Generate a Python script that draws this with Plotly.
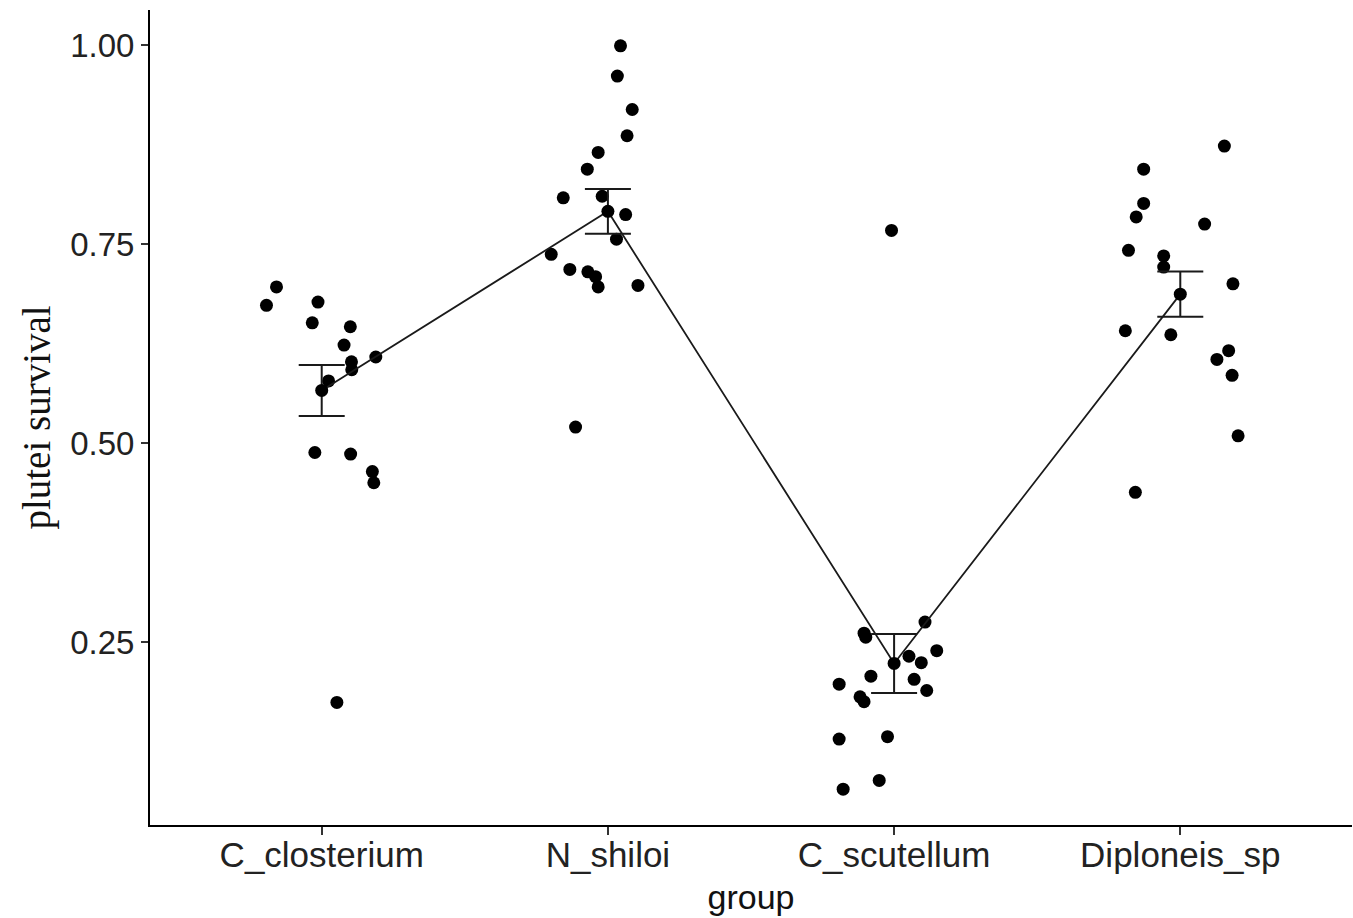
import plotly.graph_objects as go

groups = ["C_closterium", "N_shiloi", "C_scutellum", "Diploneis_sp"]

# survival values per group
c_closterium = [0.696, 0.673, 0.677, 0.651, 0.646, 0.623, 0.602, 0.592, 0.608,
                0.578, 0.488, 0.486, 0.464, 0.450, 0.174]
n_shiloi = [0.999, 0.961, 0.919, 0.886, 0.865, 0.844, 0.808, 0.810, 0.787,
            0.756, 0.737, 0.718, 0.715, 0.709, 0.696, 0.698, 0.520]
c_scutellum = [0.275, 0.261, 0.256, 0.232, 0.224, 0.239, 0.207, 0.203, 0.189,
               0.197, 0.181, 0.175, 0.128, 0.131, 0.076, 0.065, 0.767]
diploneis_sp = [0.873, 0.844, 0.801, 0.784, 0.775, 0.742, 0.735, 0.721, 0.700,
                0.641, 0.636, 0.616, 0.605, 0.585, 0.509, 0.438]

# horizontal jitter of each point (category units)
jit_c_closterium = [-0.158, -0.193, -0.013, -0.033, 0.100, 0.078, 0.104, 0.105, 0.189,
                    0.024, -0.024, 0.101, 0.177, 0.182, 0.053]
jit_n_shiloi = [0.044, 0.033, 0.085, 0.067, -0.034, -0.072, -0.156, -0.020, 0.062,
                0.030, -0.198, -0.133, -0.070, -0.043, -0.034, 0.105, -0.113]
jit_c_scutellum = [0.108, -0.105, -0.099, 0.052, 0.095, 0.149, -0.081, 0.070, 0.114,
                   -0.192, -0.119, -0.105, -0.192, -0.023, -0.052, -0.178, -0.009]
jit_diploneis_sp = [0.154, -0.128, -0.128, -0.154, 0.085, -0.181, -0.058, -0.058, 0.184,
                    -0.192, -0.033, 0.169, 0.128, 0.181, 0.202, -0.157]

# group means and standard errors
means = [0.566, 0.791, 0.223, 0.687]
ses = [0.032, 0.028, 0.037, 0.0285]

values = [c_closterium, n_shiloi, c_scutellum, diploneis_sp]
jitters = [jit_c_closterium, jit_n_shiloi, jit_c_scutellum, jit_diploneis_sp]

fig = go.Figure()

for i, (vals, jit) in enumerate(zip(values, jitters)):
    fig.add_trace(go.Scatter(
        x=[i + j for j in jit], y=vals, mode="markers",
        marker=dict(size=13, color="black", line=dict(width=0)),
        showlegend=False, hoverinfo="y"))

xpos = list(range(len(groups)))
fig.add_trace(go.Scatter(
    x=xpos, y=means, mode="lines",
    line=dict(color="#1a1a1a", width=1.8), showlegend=False))
fig.add_trace(go.Scatter(
    x=xpos, y=means, mode="markers",
    marker=dict(size=13, color="black", line=dict(width=0)),
    error_y=dict(type="data", array=ses, visible=True, width=23,
                 thickness=2, color="#1a1a1a"),
    showlegend=False))

sans = "Liberation Sans, Arial, sans-serif"

fig.update_layout(
    width=1353, height=918,
    margin=dict(l=150, r=1, t=10, b=93),
    plot_bgcolor="white", paper_bgcolor="white",
    showlegend=False,
    xaxis=dict(
        range=[-0.6, 3.6], tickmode="array", tickvals=xpos, ticktext=groups,
        showline=True, linecolor="black", linewidth=2,
        ticks="outside", ticklen=8, tickwidth=1.5, tickcolor="#333333",
        showgrid=False, zeroline=False,
        tickfont=dict(family=sans, size=35, color="#222222"),
        ticklabelstandoff=-10,
        title=dict(text="group", font=dict(family=sans, size=34, color="#111111"), standoff=12),
    ),
    yaxis=dict(
        range=[0.020, 1.044], tickmode="array",
        tickvals=[0.25, 0.50, 0.75, 1.00], ticktext=["0.25", "0.50", "0.75", "1.00"],
        showline=True, linecolor="black", linewidth=2,
        ticks="outside", ticklen=7, tickwidth=1.5, tickcolor="#333333",
        showgrid=False, zeroline=False,
        tickfont=dict(family=sans, size=33, color="#222222"),
        title=dict(text="plutei survival",
                   font=dict(family="Liberation Serif, Times New Roman, serif",
                             size=39, color="#111111"), standoff=8),
    ),
)

fig.write_html("out.html", config={"displayModeBar": False},
               post_script="document.body.style.margin='0';")
